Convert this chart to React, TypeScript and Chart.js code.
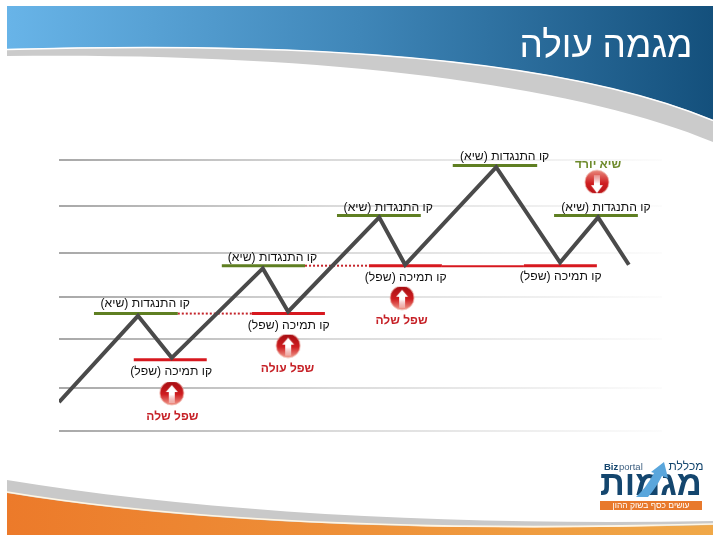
import { useEffect, useRef } from "react";
import { Chart, registerables, type Plugin } from "chart.js";

Chart.register(...registerables);

// x = time (0-100), y = price (0-60)
const gridLevels = [0, 9.5, 20.4, 29.7, 39.5, 49.8, 60];
const priceX = [0, 13.1, 18.7, 33.8, 38.0, 53.1, 57.4, 72.5, 83.1, 89.4, 94.5];
const priceY = [6.4, 25.5, 16.2, 36.0, 26.4, 47.3, 36.8, 58.4, 37.3, 47.3, 36.8];

// [from, to, level]
const resistanceLines = [
  [5.8, 19.7, 26.0],
  [27.0, 40.8, 36.6],
  [46.1, 60.0, 47.7],
  [65.3, 79.3, 58.8],
  [82.1, 96.0, 47.7]
];
const supportLines = [
  [12.4, 24.5, 15.8],
  [32.0, 44.1, 26.0],
  [51.4, 63.5, 36.6],
  [77.1, 89.2, 36.6]
];
const brokenLines = [
  [19.7, 32.0, 26.0],
  [40.8, 51.4, 36.6]
];
const supportLink = [63.5, 77.1, 36.5];

// [x, y] centre of each caption
const resistanceLabels = [
  [73.9, 60.8],
  [54.6, 49.5],
  [90.7, 49.5],
  [35.4, 38.4],
  [14.3, 28.2]
];
const supportLabels = [
  [18.6, 13.1],
  [38.1, 23.3],
  [57.5, 34.0],
  [83.2, 34.2]
];
const upArrows = [
  [18.7, 8.4],
  [38.0, 18.9],
  [56.9, 29.5]
];
const downArrows = [[89.2, 55.1]];
const callouts: [string, number, number, string][] = [
  ["שפל שלה", 18.8, 3.1, "#c62127"],
  ["שפל עולה", 37.9, 13.8, "#c62127"],
  ["שפל שלה", 56.8, 24.4, "#c62127"],
  ["שיא יורד", 89.4, 59.0, "#6d8a2a"]
];

const FONT = '"Liberation Sans", Arial, sans-serif';

function segment([from, to, level]: number[], color: string, width: number, dash: number[] = []) {
  return {
    data: [
      { x: from, y: level },
      { x: to, y: level }
    ],
    borderColor: color,
    borderWidth: width,
    borderDash: dash,
    pointRadius: 0
  };
}

function arrowIcon(up: boolean) {
  const c = document.createElement("canvas");
  c.width = 26;
  c.height = 26;
  const g = c.getContext("2d")!;
  g.beginPath();
  g.rect(0, up ? 2 : 0, 26, 24);
  g.clip();
  const fill = g.createLinearGradient(0, 1, 0, 25);
  fill.addColorStop(0, up ? "#a40d12" : "#e9897c");
  fill.addColorStop(0.55, "#cf1d20");
  fill.addColorStop(1, up ? "#f09a8c" : "#b81418");
  g.fillStyle = fill;
  g.beginPath();
  g.arc(13, 13, 12, 0, Math.PI * 2);
  g.fill();
  g.strokeStyle = "rgba(240,190,180,0.8)";
  g.lineWidth = 1;
  g.stroke();
  const white = g.createLinearGradient(0, up ? 5 : 24, 0, up ? 24 : 5);
  white.addColorStop(0, "#ffffff");
  white.addColorStop(0.5, "#ffffff");
  white.addColorStop(1, "rgba(255,255,255,0.25)");
  g.fillStyle = white;
  g.beginPath();
  if (up) {
    g.moveTo(13, 5);
    g.lineTo(19, 12);
    g.lineTo(16, 12);
    g.lineTo(16, 23);
    g.lineTo(10, 23);
    g.lineTo(10, 12);
    g.lineTo(7, 12);
  } else {
    g.moveTo(13, 24);
    g.lineTo(19, 16);
    g.lineTo(16, 16);
    g.lineTo(16, 6);
    g.lineTo(10, 6);
    g.lineTo(10, 16);
    g.lineTo(7, 16);
  }
  g.closePath();
  g.fill();
  return c;
}

// slide template: header band, swoosh, footer band, logo
const slidePlugin: Plugin<"line"> = {
  id: "slide",
  beforeDraw(chart) {
    const { ctx } = chart;
    ctx.save();

    ctx.fillStyle = "#cbcbcb";
    ctx.beginPath();
    ctx.moveTo(7, 56);
    ctx.bezierCurveTo(330, 52, 580, 86, 713, 142);
    ctx.lineTo(713, 118);
    ctx.bezierCurveTo(570, 60, 320, 40, 7, 49);
    ctx.closePath();
    ctx.fill();

    const band = ctx.createLinearGradient(7, 0, 713, 0);
    band.addColorStop(0, "#68b4e8");
    band.addColorStop(0.5, "#3f86b8");
    band.addColorStop(1, "#14507c");
    ctx.fillStyle = band;
    ctx.beginPath();
    ctx.moveTo(7, 6);
    ctx.lineTo(713, 6);
    ctx.lineTo(713, 120);
    ctx.bezierCurveTo(570, 60, 320, 40, 7, 49);
    ctx.closePath();
    ctx.fill();
    ctx.strokeStyle = "#ffffff";
    ctx.lineWidth = 1.5;
    ctx.beginPath();
    ctx.moveTo(713, 120.5);
    ctx.bezierCurveTo(570, 60.5, 320, 40.5, 7, 49.5);
    ctx.stroke();

    ctx.fillStyle = "#c9c9c9";
    ctx.beginPath();
    ctx.moveTo(7, 480);
    ctx.bezierCurveTo(200, 512, 450, 526, 713, 521);
    ctx.lineTo(713, 526);
    ctx.lineTo(7, 526);
    ctx.closePath();
    ctx.fill();

    const foot = ctx.createLinearGradient(7, 0, 713, 0);
    foot.addColorStop(0, "#ec7a2a");
    foot.addColorStop(1, "#f0a848");
    ctx.fillStyle = foot;
    ctx.beginPath();
    ctx.moveTo(7, 493);
    ctx.bezierCurveTo(200, 525, 450, 532, 713, 525);
    ctx.lineTo(713, 535);
    ctx.lineTo(7, 535);
    ctx.closePath();
    ctx.fill();
    ctx.strokeStyle = "#fff6e4";
    ctx.lineWidth = 1.5;
    ctx.beginPath();
    ctx.moveTo(7, 492);
    ctx.bezierCurveTo(200, 524, 450, 531, 713, 524);
    ctx.stroke();

    // title
    ctx.direction = "rtl";
    ctx.textBaseline = "middle";
    ctx.textAlign = "center";
    ctx.fillStyle = "#ffffff";
    ctx.font = `300 37px "Noto Sans", ${FONT}`;
    ctx.fillText("מגמה עולה", 606, 46);

    // logo
    ctx.fillStyle = "#14466e";
    ctx.font = `12px ${FONT}`;
    ctx.fillText("מכללת", 686, 467);
    ctx.font = `bold 34.5px ${FONT}`;
    ctx.fillText("מגמות", 651, 485);
    ctx.fillStyle = "#e8792c";
    ctx.fillRect(600, 501, 102, 9);
    ctx.fillStyle = "#ffffff";
    ctx.font = `8.5px ${FONT}`;
    ctx.fillText("עושים כסף בשוק ההון", 651, 506);
    ctx.direction = "ltr";
    ctx.fillStyle = "#14466e";
    ctx.font = `bold 9.5px ${FONT}`;
    ctx.textAlign = "left";
    ctx.fillText("Biz", 604, 467);
    ctx.fillStyle = "#3d5f80";
    ctx.font = `9.5px ${FONT}`;
    ctx.fillText("portal", 619, 467);
    ctx.fillStyle = "#5aa6dc";
    ctx.beginPath();
    ctx.moveTo(636, 497);
    ctx.quadraticCurveTo(646, 488, 654, 473);
    ctx.lineTo(651, 472);
    ctx.lineTo(664, 462);
    ctx.lineTo(668, 478);
    ctx.lineTo(662, 476);
    ctx.quadraticCurveTo(656, 488, 648, 497);
    ctx.closePath();
    ctx.fill();
    ctx.restore();
  },
  afterDraw(chart) {
    const { ctx } = chart;
    const sx = chart.scales.x;
    const sy = chart.scales.y;
    ctx.save();
    ctx.direction = "rtl";
    ctx.textAlign = "center";
    ctx.textBaseline = "middle";
    ctx.fillStyle = "#111111";
    ctx.font = `12.2px ${FONT}`;
    resistanceLabels.forEach(([x, y]) => {
      ctx.fillText("קו התנגדות (שיא)", sx.getPixelForValue(x), sy.getPixelForValue(y));
    });
    supportLabels.forEach(([x, y]) => {
      ctx.fillText("קו תמיכה (שפל)", sx.getPixelForValue(x), sy.getPixelForValue(y));
    });
    ctx.font = `bold 12px ${FONT}`;
    callouts.forEach(([text, x, y, color]) => {
      ctx.fillStyle = color;
      ctx.fillText(text, sx.getPixelForValue(x), sy.getPixelForValue(y));
    });
    ctx.restore();
  }
};

export default function App() {
  const canvasRef = useRef<HTMLCanvasElement | null>(null);

  useEffect(() => {
    const canvas = canvasRef.current;
    if (!canvas) return;
    const chart = new Chart(canvas, {
      type: "line",
      plugins: [slidePlugin],
      data: {
        datasets: [
          {
            data: priceX.map((x, i) => ({ x, y: priceY[i] })),
            borderColor: "#4a4a4a",
            borderWidth: 4,
            pointRadius: 0,
            tension: 0,
            borderJoinStyle: "miter"
          },
          {
            data: upArrows.map(([x, y]) => ({ x, y })),
            showLine: false,
            pointStyle: arrowIcon(true),
            pointRadius: 13
          },
          {
            data: downArrows.map(([x, y]) => ({ x, y })),
            showLine: false,
            pointStyle: arrowIcon(false),
            pointRadius: 13
          },
          ...resistanceLines.map((l) => segment(l, "#5f7f22", 3)),
          ...supportLines.map((l) => segment(l, "#d7181f", 3)),
          ...brokenLines.map((l) => segment(l, "#c4242a", 2, [2, 2])),
          segment(supportLink, "#d7181f", 2)
        ]
      },
      options: {
        responsive: false,
        animation: false,
        layout: { padding: { left: 59, right: 58, top: 160, bottom: 109 } },
        plugins: { legend: { display: false }, tooltip: { enabled: false } },
        scales: {
          x: { type: "linear", min: 0, max: 100, display: false },
          y: {
            min: 0,
            max: 60,
            afterBuildTicks: (scale) => {
              scale.ticks = gridLevels.map((value) => ({ value }));
            },
            ticks: { display: false },
            border: { display: false },
            grid: {
              drawTicks: false,
              lineWidth: 2,
              color: (c) => {
                const g = c.chart.ctx.createLinearGradient(59, 0, 662, 0);
                g.addColorStop(0, "#a8a8a8");
                g.addColorStop(0.45, "#dadada");
                g.addColorStop(1, "#fcfcfc");
                return g;
              }
            }
          }
        }
      }
    });
    return () => chart.destroy();
  }, []);

  return (
    <canvas
      ref={canvasRef}
      width={720}
      height={540}
      style={{ position: "fixed", left: 0, top: 0, display: "block" }}
    />
  );
}
